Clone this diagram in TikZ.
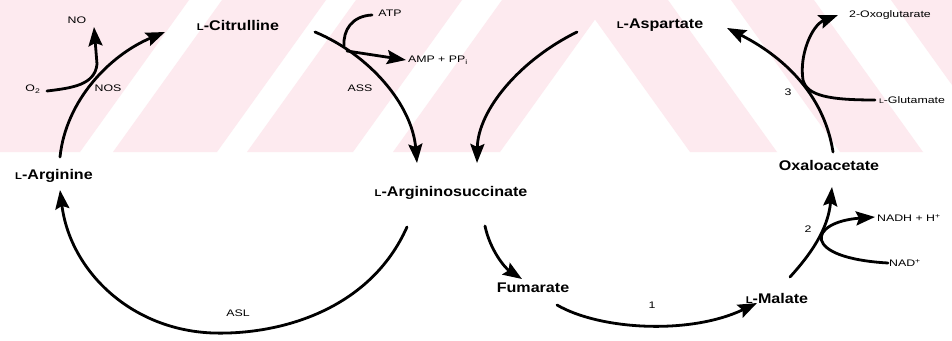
\documentclass[tikz,border=0pt]{standalone}
\usepackage{fontspec}
\setmainfont{Liberation Sans}
\usepackage{graphicx}
\usetikzlibrary{arrows.meta}
\definecolor{stripepink}{RGB}{253,234,239}
\newcommand\Lpre{\scalebox{0.7}{L}-}
\newcommand\widetxt[1]{\scalebox{1.15}[1]{#1}}
\newcommand\swidetxt[1]{\scalebox{1.3}[1]{#1}}
\tikzset{
  mainlbl/.style={font=\fontsize{14}{14}\selectfont\bfseries, inner sep=0pt},
  smalllbl/.style={font=\fontsize{9.5}{9.5}\selectfont, inner sep=0pt},
  flow/.style={line width=2.8pt, line cap=round, draw=black},
  arr/.style={flow, -{Stealth[length=19pt,width=14pt,inset=3pt]}},
  stripe/.style={fill=stripepink, draw=none}
}
\begin{document}
\begin{tikzpicture}[x=1pt,y=-1pt]
\useasboundingbox (0,0) rectangle (952,340);
\fill[white] (0,0) rectangle (952,340);
% watermark stripes
\begin{scope}
\clip (0,0) rectangle (952,152);
\fill[stripe] (-100,152) -- (80,152) -- (189,0) -- (-2,0) -- cycle;
\fill[stripe] (113,152) -- (217,152) -- (326,0) -- (222,0) -- cycle;
\fill[stripe] (247,152) -- (353,152) -- (462,0) -- (356,0) -- cycle;
\fill[stripe] (393,152) -- (500,152) -- (609,0) -- (502,0) -- cycle;
\fill[stripe] (690,152) -- (777,152) -- (668,0) -- (581,0) -- cycle;
\fill[stripe] (840,152) -- (923,152) -- (814,0) -- (731,0) -- cycle;
\fill[stripe] (1000,152) -- (1090,152) -- (981,0) -- (891,0) -- cycle;
\end{scope}

% labels
\node[smalllbl] (no) at (77,20) {\swidetxt{NO}};
\node[mainlbl] (cit) at (238,25) {\widetxt{\Lpre Citrulline}};
\node[smalllbl] (o2) at (33,89) {\swidetxt{O\textsubscript{2}}};
\node[smalllbl] (nos) at (108,88) {\swidetxt{NOS}};
\node[smalllbl] (atp) at (390,13) {\swidetxt{ATP}};
\node[smalllbl] (amp) at (438,60) {\swidetxt{AMP + PP\textsubscript{i}}};
\node[smalllbl] (ass) at (360,88) {\swidetxt{ASS}};
\node[mainlbl] (asp) at (660,25) {\widetxt{\Lpre Aspartate}};
\node[smalllbl] (oxg) at (890,15) {\swidetxt{2-Oxoglutarate}};
\node[smalllbl] (glu) at (912,100) {\swidetxt{\Lpre Glutamate}};
\node[smalllbl] (e3) at (788,92) {\swidetxt{3}};
\node[mainlbl] (arg) at (54,176) {\widetxt{\Lpre Arginine}};
\node[mainlbl] (as) at (451,193) {\widetxt{\Lpre Argininosuccinate}};
\node[mainlbl] (oaa) at (829,165) {\widetxt{Oxaloacetate}};
\node[smalllbl] (nadh) at (909,218) {\swidetxt{NADH + H\textsuperscript{+}}};
\node[smalllbl] (e2) at (808,229) {\swidetxt{2}};
\node[smalllbl] (nad) at (905,263) {\swidetxt{NAD\textsuperscript{+}}};
\node[mainlbl] (fum) at (533,288) {\widetxt{Fumarate}};
\node[mainlbl] (mal) at (777,298) {\widetxt{\Lpre Malate}};
\node[smalllbl] (e1) at (652,305) {\swidetxt{1}};
\node[smalllbl] (asl) at (238,313) {\swidetxt{ASL}};

% end points
\coordinate (argTop) at (60,157);
\coordinate (citIn) at (165,32);
\coordinate (o2s) at (47,91);
\coordinate (noTip) at (94,27);
\coordinate (citOut) at (315,32);
\coordinate (asIn1) at (417,163);
\coordinate (atps) at (372,15);
\coordinate (atpe) at (344,46);
\coordinate (amps) at (347,51);
\coordinate (ampTip) at (406,60);
\coordinate (aspOut) at (577,32);
\coordinate (asIn2) at (477,163);
\coordinate (oaaTop) at (833,152);
\coordinate (aspIn) at (727,28);
\coordinate (glus) at (875,100);
\coordinate (gluBend) at (803,80);
\coordinate (oxgTip) at (838,15);
\coordinate (asOut) at (407,227);
\coordinate (aslBot) at (213,333);
\coordinate (argIn) at (60,190);
\coordinate (asOut2) at (485,226);
\coordinate (fumIn) at (522,279);
\coordinate (fumOut) at (557,305);
\coordinate (malIn) at (757,303);
\coordinate (malOut) at (790,277);
\coordinate (oaaIn) at (832,187);
\coordinate (nads) at (888,263);
\coordinate (nadhTip) at (875,217);

% connectors
\draw[arr] (argTop) .. controls (66,100) and (110,55) .. (citIn);
\draw[arr] (o2s) .. controls (72,88) and (95,85) .. (97,64) -- (noTip);
\draw[arr] (citOut) .. controls (370,55) and (412,105) .. (asIn1);
\draw[flow] (atps) .. controls (352,16) and (343,30) .. (atpe);
\draw[arr] (amps) -- (ampTip);
\draw[arr] (aspOut) .. controls (520,60) and (478,110) .. (asIn2);
\draw[arr] (oaaTop) .. controls (825,100) and (790,60) .. (aspIn);
\draw[arr] (glus) .. controls (830,100) and (807,96) .. (gluBend)
   .. controls (799,55) and (812,25) .. (oxgTip);
\draw[arr] (asOut) .. controls (370,310) and (280,335) .. (aslBot)
   .. controls (130,330) and (70,270) .. (argIn);
\draw[arr] (asOut2) .. controls (490,250) and (505,268) .. (fumIn);
\draw[arr] (fumOut) .. controls (600,330) and (690,335) .. (malIn);
\draw[arr] (malOut) .. controls (810,255) and (828,230) .. (oaaIn);
\draw[arr] (nads) .. controls (800,258) and (808,222) .. (nadhTip);
\end{tikzpicture}
\end{document}
